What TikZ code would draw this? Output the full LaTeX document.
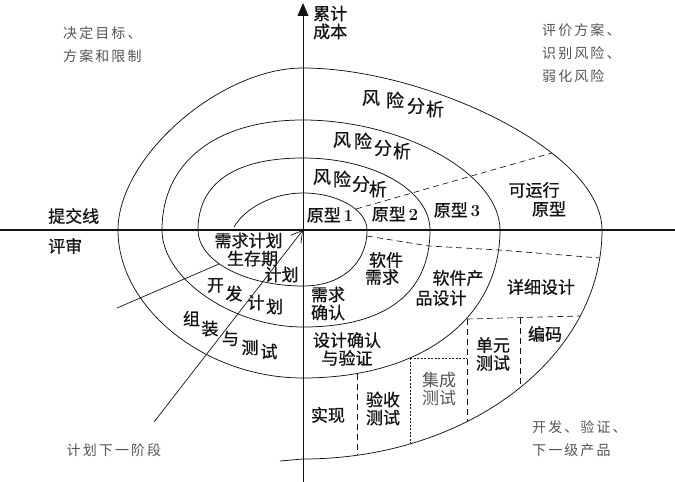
\documentclass[tikz,border=0pt]{standalone}
\usepackage{fontspec}
\usepackage{xcolor}
\usepackage{tikz}
\usetikzlibrary{arrows.meta}
\newfontfamily\cjk[FakeBold=0.8]{Noto Sans CJK SC}
\newfontfamily\cjkplain{Noto Sans CJK SC}
\newfontfamily\cjknote[LetterSpace=15]{Noto Sans CJK SC}
\definecolor{ink}{RGB}{20,20,20}
\definecolor{notegray}{RGB}{85,85,85}
\tikzset{
  axisline/.style={line width=1.4pt,ink},
  costaxis/.style={line width=0.8pt,ink,-{Triangle[length=13pt,width=11pt]}},
  spiral/.style={line width=0.75pt,ink},
  divider/.style={line width=0.65pt,ink,dash pattern=on 6pt off 4pt},
  finedash/.style={line width=0.9pt,ink,dash pattern=on 2pt off 1.5pt},
  radial/.style={line width=0.7pt,ink},
  stage/.style={font=\cjk\fontsize{17}{18}\selectfont,text=ink,align=center,inner sep=0pt},
  riskglyph/.style={font=\cjk\fontsize{18}{18}\selectfont,text=ink,inner sep=0pt},
  note/.style={font=\cjknote\fontsize{14}{23}\selectfont,text=notegray,align=left,inner sep=0pt}
}

\begin{document}
\begin{tikzpicture}[x=1pt,y=1pt]
  \useasboundingbox (-303,-252) rectangle (372,230);
  \coordinate (O) at (0,0);
  % axes
  \draw[axisline] (-303,0) -- (372,0);
  \draw[costaxis] (0,-252) -- (0,227);
  % spiral, one quarter after another
  \draw[spiral] (-69,3) .. controls (-58,22) and (-30,37) .. (0,37)
    .. controls (35,37) and (64,20) .. (64,0)
    .. controls (64,-34) and (38,-56) .. (0,-56)
    .. controls (-58,-56) and (-105,-31) .. (-105,0)
    .. controls (-105,47) and (-68,72) .. (0,72)
    .. controls (70,72) and (127,40) .. (127,0)
    .. controls (127,-63) and (83,-97) .. (0,-97)
    .. controls (-70,-97) and (-141,-49) .. (-141,0)
    .. controls (-141,68) and (-87,110) .. (0,110)
    .. controls (98,110) and (197,57) .. (197,0)
    .. controls (197,-89) and (118,-148) .. (0,-148)
    .. controls (-98,-148) and (-185,-78) .. (-185,0)
    .. controls (-185,73) and (-83,162) .. (0,162)
    .. controls (120,162) and (299,80) .. (299,0)
    .. controls (299,-127) and (165,-229) .. (0,-229)
    -- (-23,-231);
  % prototype / design borders
  \coordinate (d1a) at (53,21);
  \coordinate (d1b) at (249,77);
  \draw[divider] (d1a) -- (d1b);
  \coordinate (d2a) at (64,-6);
  \coordinate (d2b) at (126,-16);
  \coordinate (d2c) at (196,-20);
  \coordinate (d2d) at (297,-28);
  \draw[divider] (d2a) -- (d2b) -- (d2c) -- (d2d);
  % test boxes
  \coordinate (unitTL) at (164,-89);
  \coordinate (unitTR) at (277,-86);
  \coordinate (unitB) at (164,-191);
  \coordinate (codeT) at (217,-88);
  \coordinate (codeB) at (217,-157);
  \coordinate (integTL) at (107,-128);
  \coordinate (integTR) at (164,-128);
  \coordinate (integB) at (107,-214);
  \coordinate (acceptT) at (54,-144);
  \coordinate (acceptB) at (54,-225);
  \draw[divider] (unitTL) -- (unitTR);
  \draw[divider] (codeT) -- (codeB);
  \draw[divider] (unitTL) -- (unitB);
  \draw[finedash] (integTL) -- (integTR);
  \draw[finedash] (integTL) -- (integB);
  \draw[divider] (acceptT) -- (acceptB);
  % review lines
  \coordinate (rev0) at (-186,-78);
  \coordinate (rev1) at (-84,-34);
  \draw[radial] (rev0) -- (rev1);
  \coordinate (plan) at (-149,-192);
  \draw[radial,-{Straight Barb[length=11pt,width=13pt]}] (plan) -- (O);
  % quadrant notes
  \node[note,anchor=west] (goals) at (-240,185.5) {决定目标、\\方案和限制};
  \node[note,anchor=west] (assess) at (239,176.5) {评价方案、\\识别风险、\\弱化风险};
  \node[note,anchor=west] (develop) at (229,-208.5) {开发、验证、\\下一级产品};
  \node[note] (nextphase) at (-189,-220) {计划下一阶段};
  \node[stage,anchor=west,align=left] (cost) at (10,207.5) {累计\\成本};
  \node[stage,anchor=west] (commit) at (-255,14) {提交线};
  \node[stage,anchor=west] (review) at (-255,-16) {评审};
  % risk analysis, glyph by glyph
  \foreach \ch/\px/\py [count=\i] in {风/19/53,险/39/51,分/58/46,析/75/41}
    \node[riskglyph] (riska\i) at (\px,\py) {\ch};
  \foreach \ch/\px/\py [count=\i] in {风/39/90,险/60/89,分/80/82,析/99/79}
    \node[riskglyph] (riskb\i) at (\px,\py) {\ch};
  \foreach \ch/\px/\py [count=\i] in {风/68/132,险/92/130,分/113/124,析/132/121}
    \node[riskglyph] (riskc\i) at (\px,\py) {\ch};
  \foreach \ch/\px/\py [count=\i] in {开/-87.5/-55.5,发/-69/-63.5,计/-47/-72.5,划/-28.5/-76.5}
    \node[stage] (devplan\i) at (\px,\py) {\ch};
  \foreach \ch/\px/\py [count=\i] in {组/-111.5/-88.5,装/-93/-98.5,与/-72.5/-108.5,测/-53/-117.5,试/-34/-121.5}
    \node[stage] (assembly\i) at (\px,\py) {\ch};
  % planning
  \node[stage] (reqplan) at (-54.5,-10.5) {需求计划};
  \node[stage] (life) at (-50.5,-28.5) {生存期};
  \node[stage] (lifeplan) at (-21.5,-44.5) {计划};
  % prototypes
  \node[stage] (proto1) at (27,15) {原型\,{\rmfamily\bfseries 1}};
  \node[stage] (proto2) at (92,16) {原型\,{\rmfamily\bfseries 2}};
  \node[stage] (proto3) at (154,20) {原型\,{\rmfamily\bfseries 3}};
  \node[stage] (runnable) at (231,40) {可运行};
  \node[stage] (runproto) at (246,21) {原型};
  % design and test stages
  \node[stage] (swreq) at (83,-30) {软件};
  \node[stage] (swreq2) at (79,-47) {需求};
  \node[stage] (prod) at (155,-48) {软件产};
  \node[stage] (prod2) at (138,-68) {品设计};
  \node[stage] (detail) at (238,-57) {详细设计};
  \node[stage] (reqcheck) at (25,-73.5) {需求\\确认};
  \node[stage] (descheck) at (44,-119) {设计确认\\与验证};
  \node[stage] (impl) at (25,-185) {实现};
  \node[stage] (accept) at (80,-178.5) {验收\\测试};
  \node[stage,font=\cjkplain\fontsize{17}{18}\selectfont,text=notegray] (integ) at (136,-158.5) {集成\\测试};
  \node[stage] (unit) at (190,-124) {单元\\测试};
  \node[stage] (code) at (242,-104) {编码};
\end{tikzpicture}
\end{document}
